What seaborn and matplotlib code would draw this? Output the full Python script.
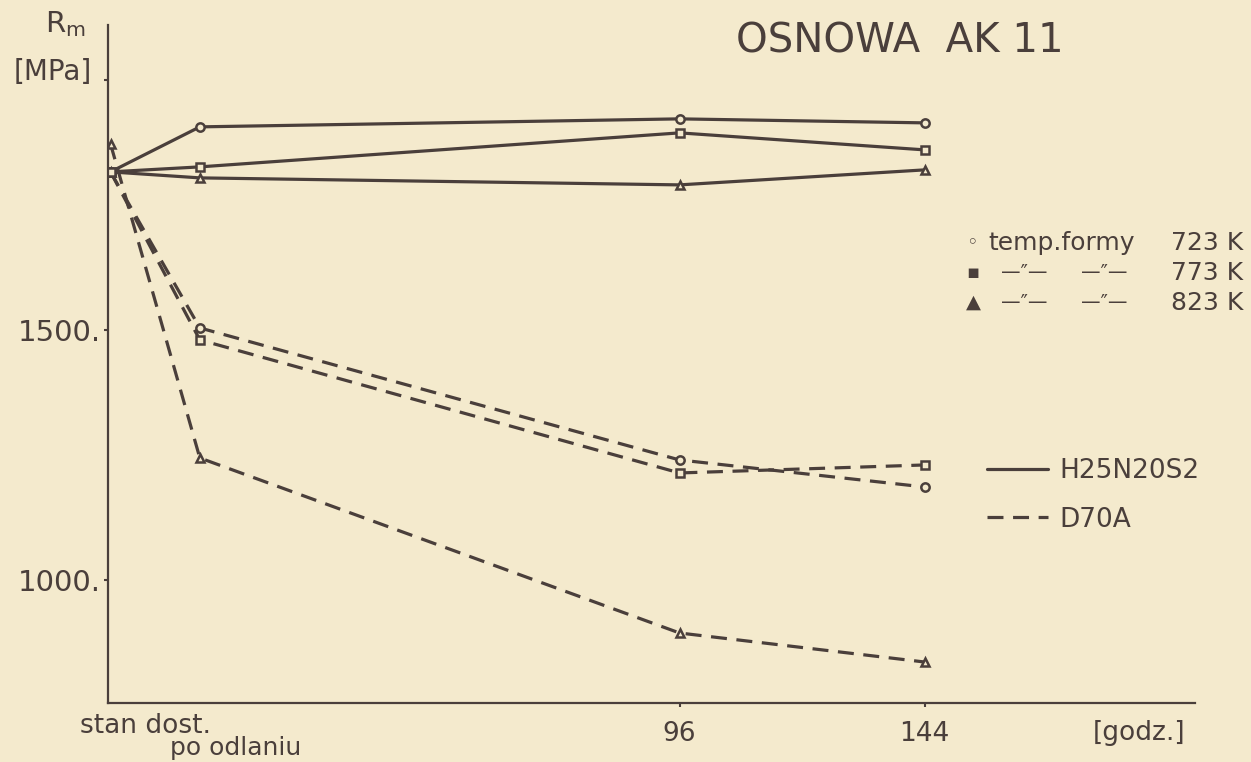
import numpy as np
import pandas as pd
import matplotlib.pyplot as plt
import seaborn as sns
from matplotlib.lines import Line2D

# Data
x_labels = ["stan dost.", "po odlaniu", "96", "144"]
x_pos = [-15.5, 2, 96, 144]  # hours; "stan dost." drawn left of zero

h25_723 = [1816, 1906, 1922, 1914]
h25_773 = [1816, 1826, 1894, 1860]
h25_823 = [1816, 1804, 1790, 1820]
d70_723 = [1816, 1504, 1240, 1186]
d70_773 = [1816, 1480, 1214, 1230]
d70_823 = [1872, 1244, 894, 836]

y_ticks = [1000, 1500, 2000]
y_tick_labels = ["1000.", "1500.", ""]

ink = "#4a3f3b"
bg = "#f4eacd"

sns.set_theme(style="white")
plt.rcParams["font.family"] = ["DejaVu Sans"]

fig = plt.figure(figsize=(12.51, 7.62), dpi=100, facecolor=bg)
ax = fig.add_axes([0.0863, 0.0774, 0.869, 0.89])
ax.set_facecolor(bg)

series = [
    (h25_723, "o", "-"), (h25_773, "s", "-"), (h25_823, "^", "-"),
    (d70_723, "o", (0, (5, 3))), (d70_773, "s", (0, (5, 3))), (d70_823, "^", (0, (5, 3))),
]
for vals, mk, ls in series:
    sns.lineplot(x=x_pos, y=vals, ax=ax, color=ink, lw=2.3, linestyle=ls,
                 marker=mk, markersize=6, markerfacecolor=bg,
                 markeredgecolor=ink, markeredgewidth=1.8)

ax.set_xlim(-16, 197)
ax.set_ylim(754, 2110)

for side in ["top", "right"]:
    ax.spines[side].set_visible(False)
for side in ["left", "bottom"]:
    ax.spines[side].set_color(ink)
    ax.spines[side].set_linewidth(1.6)

ax.set_yticks(y_ticks)
ax.set_yticklabels(y_tick_labels, fontsize=21, color=ink)
ax.tick_params(axis="y", length=3, width=1.5, color=ink, pad=2, left=True)

ax.set_xticks(x_pos[2:])
ax.set_xticklabels(x_labels[2:], fontsize=19, color=ink)
ax.tick_params(axis="x", length=3, width=1.5, color=ink, pad=10, bottom=True)

# category labels below the axis
ax.text(-8.6, -0.015, x_labels[0], transform=ax.get_xaxis_transform(),
        ha="center", va="top", fontsize=19, color=ink)
ax.text(9, -0.048, x_labels[1], transform=ax.get_xaxis_transform(),
        ha="center", va="top", fontsize=18, color=ink)
ax.text(186, -0.025, "[godz.]", transform=ax.get_xaxis_transform(),
        ha="center", va="top", fontsize=19, color=ink)

# axis name
fig.text(0.052, 0.968, "R$_\\mathregular{m}$", ha="center", va="center", fontsize=21, color=ink)
fig.text(0.042, 0.905, "[MPa]", ha="center", va="center", fontsize=20, color=ink)

# title
fig.text(0.719, 0.945, "OSNOWA  AK 11", ha="center", va="center", fontsize=29, color=ink)

# marker key
key_y = [0.681, 0.642, 0.603]
key_mark = ["◦", "▪", "▲"]
key_mid = ["temp.formy", "—″—", "—″—"]
key_mid2 = ["", "—″—", "—″—"]
key_temp = ["723 K", "773 K", "823 K"]
for y, m, a, b, t in zip(key_y, key_mark, key_mid, key_mid2, key_temp):
    fig.text(0.772, y, m, ha="left", va="center", fontsize=14, color=ink)
    if b:
        fig.text(0.800, y, a, ha="left", va="center", fontsize=14, color=ink)
        fig.text(0.864, y, b, ha="left", va="center", fontsize=14, color=ink)
    else:
        fig.text(0.79, y, a, ha="left", va="center", fontsize=18, color=ink)
    fig.text(0.994, y, t, ha="right", va="center", fontsize=18, color=ink)

# line style key
handles = [Line2D([], [], color=ink, lw=2.3, linestyle="-"),
           Line2D([], [], color=ink, lw=2.3, linestyle=(0, (5, 3)))]
fig.legend(handles, ["H25N20S2", "D70A"], loc="center left",
           bbox_to_anchor=(0.770, 0.350), frameon=False, fontsize=19,
           handlelength=2.3, labelspacing=0.85, handletextpad=0.45,
           labelcolor=ink)

fig.savefig("out.png", dpi=100, facecolor=bg)
